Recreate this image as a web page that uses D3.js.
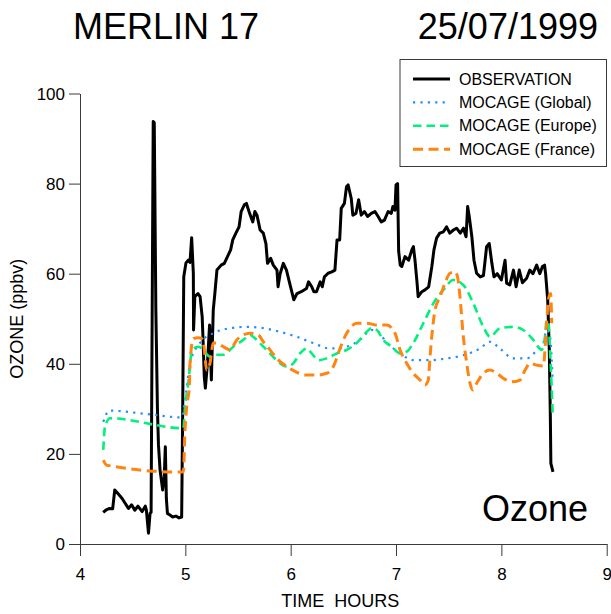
<!DOCTYPE html>
<html><head><meta charset="utf-8">
<script src="https://cdn.jsdelivr.net/npm/d3@7"></script>
<style>body{margin:0;background:#fff}svg{display:block}text{font-family:"Liberation Sans",Arial,sans-serif;white-space:pre}</style>
</head><body><svg id="c" width="611" height="614"></svg>
<script>
const titleLeft = "MERLIN 17";
const titleRight = "25/07/1999";
const xLabel = "TIME  HOURS";
const yLabel = "OZONE (ppbv)";
const cornerLabel = "Ozone";
const xTicks = [4,5,6,7,8,9];
const yTicks = [0,20,40,60,80,100];
const seriesNames = ["OBSERVATION","MOCAGE (Global)","MOCAGE (Europe)","MOCAGE (France)"];

const obsTime = [4.22,4.25,4.28,4.31,4.33,4.36,4.40,4.43,4.46,4.49,4.52,4.55,4.59,4.62,4.63,4.65,4.665,4.675,4.695,4.705,4.72,4.735,4.745,4.76,4.785,4.80,4.81,4.82,4.83,4.85,4.88,4.91,4.94,4.965,4.975,4.985,5.006,5.028,5.044,5.06,5.076,5.078,5.09,5.12,5.14,5.16,5.167,5.18,5.19,5.21,5.23,5.247,5.265,5.28,5.30,5.34,5.37,5.40,5.43,5.45,5.48,5.51,5.53,5.56,5.58,5.61,5.64,5.66,5.68,5.71,5.74,5.765,5.78,5.81,5.835,5.87,5.88,5.90,5.93,5.96,5.99,6.03,6.06,6.10,6.15,6.17,6.20,6.22,6.245,6.28,6.30,6.32,6.355,6.39,6.42,6.44,6.465,6.48,6.51,6.53,6.545,6.56,6.575,6.59,6.62,6.645,6.67,6.70,6.73,6.765,6.80,6.83,6.86,6.89,6.925,6.955,6.97,6.99,7.00,7.015,7.025,7.04,7.055,7.085,7.12,7.15,7.165,7.18,7.20,7.21,7.245,7.275,7.31,7.34,7.36,7.385,7.415,7.45,7.48,7.51,7.545,7.575,7.61,7.64,7.665,7.68,7.695,7.72,7.74,7.765,7.80,7.83,7.86,7.885,7.91,7.93,7.96,8.00,8.035,8.05,8.08,8.115,8.14,8.17,8.20,8.24,8.27,8.30,8.335,8.365,8.39,8.41,8.42,8.44,8.455,8.465,8.47,8.49];
const obsValue = [7.0,7.6,7.9,7.8,12.0,11.2,10.1,9.0,7.9,8.7,7.5,8.4,7.2,8.4,7.5,2.4,6.8,7.0,93.8,93.5,52,30,22,16.4,12.0,15,21.6,10,6.8,6.5,6.0,6.2,5.8,6.0,30,59.3,62.4,63,62.5,68,60,47.5,54.9,55.6,54.9,50.4,46,37.1,34.6,40.1,48.6,36.4,51.9,55.6,60.8,61.9,62.3,63.8,65.3,67.5,69,70.4,73.8,75.3,75.6,73.4,71.5,73.8,73,69.7,69,66.7,62.3,63.4,61.9,60.8,57.1,60,62.3,60.8,57.9,54.2,55.6,56,56.7,58.2,57.1,56,56,58.2,57.1,59.3,60.1,60.4,60.8,67.5,67.5,74.5,75.6,79.3,79.7,78.2,76.7,73,73.4,76.4,73,73.8,72.7,73.4,73.8,72.7,71.5,71.9,73.8,73.4,74.9,74.1,79.7,80,65,61.9,61.6,63.8,63,65.3,66,63,57.9,54.9,56,56.4,57.1,61.6,65.3,67.9,69,69.3,70.4,69,69.7,70.1,69,70.1,68.2,74.9,72.7,68.2,63,60.1,59.3,59.6,66,66.7,62.3,59.3,60,58.6,63,57.9,57.5,60.8,57.1,60.8,58,59,60.8,60,61.9,60,61.6,61.9,60,54.2,43.1,28.3,17.9,16];

const globTime = [4.221,4.278,4.62,4.965,4.997,5.019,5.044,5.139,5.265,5.424,5.582,5.740,5.899,6.057,6.215,6.373,6.532,6.658,6.769,6.832,6.912,7.022,7.164,7.323,7.481,7.639,7.797,7.892,7.987,8.113,8.241,8.336,8.398,8.430,8.462,8.487];
const globValue = [27.1,29.6,28.9,28.1,32,35.7,40.1,44.6,46.8,47.9,48.2,47.9,47.1,46,44.6,43.4,43.8,45.3,47.5,47.1,44.6,42.7,40.8,40.8,41.2,41.9,43.4,44.9,43.4,41.2,41.2,43,44.6,47.5,46,36.4];

const euroTime = [4.221,4.237,4.285,4.981,4.997,5.028,5.044,5.060,5.123,5.170,5.234,5.282,5.360,5.455,5.550,5.614,5.693,5.772,5.867,5.962,6.025,6.088,6.152,6.200,6.262,6.342,6.437,6.532,6.627,6.722,6.769,6.817,6.879,6.959,7.038,7.101,7.164,7.259,7.354,7.449,7.544,7.639,7.734,7.829,7.892,7.987,8.113,8.208,8.303,8.383,8.414,8.430,8.446,8.468,8.487];
const euroValue = [20.9,26,27.9,25.7,30.5,35.7,39.4,43.1,43.8,43.1,41.6,42,42,43.8,45.3,46.4,44.9,43.1,40.8,39.4,40.1,42.3,43.4,42.3,40.8,41.2,42.3,43.1,44.6,47.1,47.9,47.5,45.3,43.8,42.3,42.7,44.6,49,53.4,56.4,58.6,57.5,53.4,48.2,46,47.9,48.2,47.5,45.3,43.1,46,49.7,49,40.1,29];

const franTime = [4.221,4.253,4.918,4.981,4.997,5.013,5.038,5.044,5.076,5.123,5.155,5.177,5.203,5.234,5.265,5.298,5.360,5.424,5.488,5.550,5.614,5.693,5.740,5.804,5.867,5.962,6.041,6.136,6.247,6.342,6.405,6.452,6.500,6.563,6.627,6.722,6.817,6.912,6.990,7.038,7.101,7.164,7.228,7.275,7.306,7.323,7.339,7.370,7.418,7.465,7.512,7.560,7.582,7.607,7.639,7.671,7.702,7.728,7.766,7.829,7.892,7.956,8.018,8.098,8.177,8.225,8.272,8.336,8.398,8.414,8.430,8.446,8.468,8.478];
const franValue = [18.6,17.5,16,16,25.3,30.5,34.9,40,45.6,45.8,45.6,43.8,38.6,40.1,44.6,44.6,43.8,43.1,45.3,46.4,46.8,46.4,44.9,43.1,41.2,39.4,38.3,37.5,37.5,37.9,39.4,42.3,45.3,47.9,49,49,48.6,48.6,46.8,43.1,40.1,37.9,36.4,35.3,36.4,41.6,46,51.9,54.9,57.9,60.1,60.4,59.5,54.9,46,40.1,35.7,34.2,35.7,37.9,38.6,37.9,36.8,36,36.4,38.6,40.1,39.7,39.5,43.1,49,54.2,55.6,49];

const svg = d3.select("#c");
const x = d3.scaleLinear().domain([4,9]).range([80,606.7]);
const y = d3.scaleLinear().domain([0,100]).range([544,93.5]);
const axisColor = "#3a3a3a";

// titles
svg.append("text").attr("x",73).attr("y",39).attr("font-size",36).text(titleLeft);
svg.append("text").attr("x",598).attr("y",39).attr("font-size",36).attr("text-anchor","end").text(titleRight);

// axes
const gx = svg.append("g").attr("transform",`translate(0,${y(0)})`)
  .call(d3.axisBottom(x).tickValues(xTicks).tickFormat(d3.format("d")).tickSize(12).tickSizeOuter(0).tickPadding(12));
const gy = svg.append("g").attr("transform",`translate(${x(4)},0)`)
  .call(d3.axisLeft(y).tickValues(yTicks).tickFormat(d3.format("d")).tickSize(11).tickSizeOuter(0).tickPadding(4));
[gx,gy].forEach(g=>{
  g.selectAll("path,line").attr("stroke",axisColor).attr("stroke-width",1);
  g.selectAll("text").attr("font-size",17).attr("fill","#000").attr("font-family","Liberation Sans, Arial, sans-serif");
});
gy.selectAll("text").attr("dy","0.35em");

svg.append("text").attr("x",(x(4)+x(9))/2-3).attr("y",607).attr("text-anchor","middle").attr("font-size",18).attr("xml:space","preserve").text(xLabel);
svg.append("text").attr("transform",`translate(23,${(y(0)+y(100))/2}) rotate(-90)`).attr("text-anchor","middle").attr("font-size",18).text(yLabel);

// series
const series = [
  {t:obsTime,v:obsValue,color:"#000",w:3,dash:null,curve:d3.curveLinear},
  {t:globTime,v:globValue,color:"#1e8fff",w:2.2,dash:"2.2,5.2",curve:d3.curveMonotoneX},
  {t:euroTime,v:euroValue,color:"#00f07c",w:2.6,dash:"8.5,5",curve:d3.curveMonotoneX},
  {t:franTime,v:franValue,color:"#ff8410",w:3,dash:"10,5.5",curve:d3.curveMonotoneX}
];
series.forEach(s=>{
  const pts = s.t.map((t,k)=>[t,s.v[k]]);
  const line = d3.line().x(d=>x(d[0])).y(d=>y(d[1])).curve(s.curve);
  svg.append("path").attr("d",line(pts)).attr("fill","none").attr("stroke",s.color)
    .attr("stroke-width",s.w).attr("stroke-dasharray",s.dash).attr("stroke-linejoin","round");
});

// legend
const lg = svg.append("g");
lg.append("rect").attr("x",400).attr("y",59.5).attr("width",206.5).attr("height",107)
  .attr("fill","#fff").attr("stroke",axisColor).attr("stroke-width",1);
seriesNames.forEach((n,i)=>{
  const yy = 79 + i*23.4;
  const s = series[i];
  lg.append("line").attr("x1",413).attr("x2",450).attr("y1",yy).attr("y2",yy)
    .attr("stroke",s.color).attr("stroke-width",s.w).attr("stroke-dasharray",s.dash);
  lg.append("text").attr("x",459).attr("y",yy+5.5).attr("font-size",16).text(n);
});

svg.append("text").attr("x",482).attr("y",521).attr("font-size",36).text(cornerLabel);
</script></body></html>
